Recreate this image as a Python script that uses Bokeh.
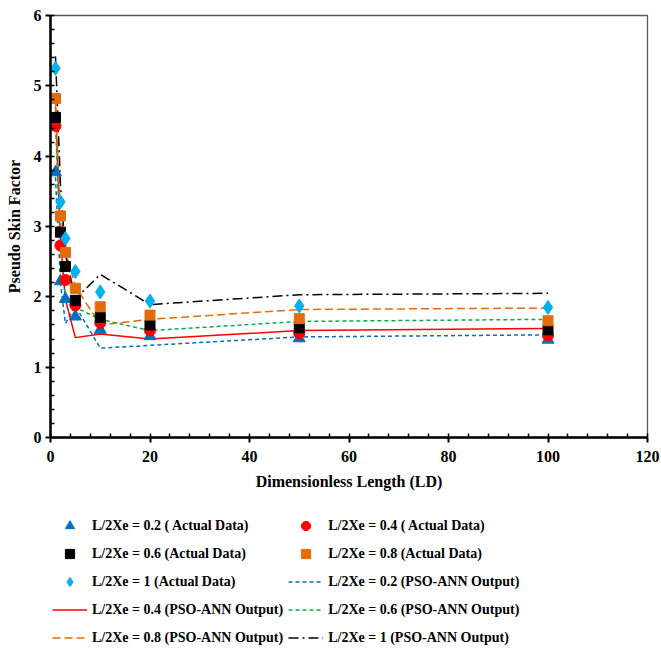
from bokeh.plotting import figure
from bokeh.layouts import column
from bokeh.models import Legend, LegendItem, Range1d, SingleIntervalTicker, ColumnDataSource
from bokeh.embed import file_html
from bokeh.resources import INLINE

# ---- data ----
x_ld = [1, 2, 3, 5, 10, 20, 50, 100]

actual_02 = [3.77, 2.22, 1.97, 1.72, 1.53, 1.44, 1.41, 1.39]
actual_04 = [4.43, 2.73, 2.24, 1.88, 1.63, 1.52, 1.48, 1.45]
actual_06 = [4.55, 2.92, 2.43, 1.95, 1.71, 1.60, 1.56, 1.53]
actual_08 = [4.82, 3.15, 2.63, 2.12, 1.86, 1.74, 1.69, 1.66]
actual_10 = [5.25, 3.35, 2.83, 2.36, 2.07, 1.94, 1.87, 1.85]

pso_02 = [3.70, 2.20, 1.62, 1.87, 1.27, 1.31, 1.43, 1.46]
pso_04 = [4.70, 2.80, 1.96, 1.42, 1.47, 1.40, 1.52, 1.55]
pso_06 = [4.50, 2.60, 2.00, 1.85, 1.68, 1.52, 1.65, 1.68]
pso_08 = [4.75, 3.20, 2.65, 2.15, 1.60, 1.68, 1.82, 1.84]
pso_10 = [5.42, 3.60, 2.60, 1.97, 2.32, 1.89, 2.03, 2.05]

labels_actual = ["L/2Xe = 0.2 ( Actual Data)", "L/2Xe = 0.4 ( Actual Data)",
                 "L/2Xe = 0.6 (Actual Data)", "L/2Xe = 0.8 (Actual Data)",
                 "L/2Xe = 1 (Actual Data)"]
labels_pso = ["L/2Xe = 0.2 (PSO-ANN Output)", "L/2Xe = 0.4 (PSO-ANN Output)",
              "L/2Xe = 0.6 (PSO-ANN Output)", "L/2Xe = 0.8 (PSO-ANN Output)",
              "L/2Xe = 1 (PSO-ANN Output)"]

FONT = "Liberation Serif"

src = ColumnDataSource(dict(x=x_ld, a02=actual_02, a04=actual_04, a06=actual_06,
                            a08=actual_08, a10=actual_10, p02=pso_02, p04=pso_04,
                            p06=pso_06, p08=pso_08, p10=pso_10))

LINE_STYLES = {
    "p02": dict(line_color="#0070C0", line_width=1.5, line_dash="4 3"),
    "p04": dict(line_color="#FF0000", line_width=1.5),
    "p06": dict(line_color="#00B050", line_width=1.5, line_dash="4 3"),
    "p08": dict(line_color="#E46C0A", line_width=1.5, line_dash="8 4"),
    "p10": dict(line_color="black", line_width=1.5, line_dash="10 4 2 4"),
}
MARKER_STYLES = {
    "a02": dict(marker="triangle", size=12, color="#0070C0"),
    "a04": dict(marker="circle", size=11, color="#FF0000"),
    "a06": dict(marker="square", size=10, color="black"),
    "a08": dict(marker="square", size=10, color="#E46C0A"),
    "a10": dict(marker="diamond", size=14, color="#00B0F0"),
}


def add_series(fig):
    r = {}
    for k, st in LINE_STYLES.items():
        r[k] = fig.line("x", k, source=src, **st)
    for k, st in MARKER_STYLES.items():
        r[k] = fig.scatter("x", k, source=src, **st)
    return r


# ---- main chart ----
p = figure(width=661, height=500, output_backend="svg", toolbar_location=None,
           x_range=Range1d(0, 120), y_range=Range1d(0, 6),
           min_border_left=50, min_border_top=15, min_border_right=14,
           min_border_bottom=63)
p.grid.visible = False
p.outline_line_color = "#595959"
p.outline_line_width = 1.3
p.background_fill_color = "white"
p.border_fill_color = "white"

p.xaxis.ticker = SingleIntervalTicker(interval=20, num_minor_ticks=5)
p.yaxis.ticker = SingleIntervalTicker(interval=1, num_minor_ticks=5)
for ax in (p.xaxis[0], p.yaxis[0]):
    ax.axis_line_width = 2.5
    ax.axis_line_color = "black"
    ax.major_tick_line_width = 2
    ax.minor_tick_line_width = 1.5
    ax.major_tick_out = 5
    ax.major_tick_in = 0
    ax.minor_tick_in = 4
    ax.minor_tick_out = 0
    ax.major_label_text_font = FONT
    ax.major_label_text_font_style = "bold"
    ax.major_label_text_font_size = "16px"
    ax.major_label_text_color = "black"
    ax.axis_label_text_font = FONT
    ax.axis_label_text_font_style = "bold"
    ax.axis_label_text_font_size = "16px"
    ax.axis_label_text_color = "black"
p.xaxis.axis_label = "Dimensionless Length (LD)"
p.yaxis.axis_label = "Pseudo Skin Factor"
p.yaxis.major_label_standoff = 4
p.xaxis.major_label_standoff = 8
p.yaxis.axis_label_standoff = 8
p.xaxis.axis_label_standoff = 8

add_series(p)

# ---- legend panel (same series, kept outside its own view) ----
lg = figure(width=661, height=149, output_backend="svg", toolbar_location=None,
            x_range=Range1d(-10, -9), y_range=Range1d(-10, -9),
            min_border=0)
lg.axis.visible = False
lg.grid.visible = False
lg.outline_line_color = None
lg.background_fill_color = "white"
lg.border_fill_color = "white"
rr = add_series(lg)

# legend fills column by column
items = [
    LegendItem(label=labels_actual[0], renderers=[rr["a02"]]),
    LegendItem(label=labels_actual[2], renderers=[rr["a06"]]),
    LegendItem(label=labels_actual[4], renderers=[rr["a10"]]),
    LegendItem(label=labels_pso[1], renderers=[rr["p04"]]),
    LegendItem(label=labels_pso[3], renderers=[rr["p08"]]),
    LegendItem(label=labels_actual[1], renderers=[rr["a04"]]),
    LegendItem(label=labels_actual[3], renderers=[rr["a08"]]),
    LegendItem(label=labels_pso[0], renderers=[rr["p02"]]),
    LegendItem(label=labels_pso[2], renderers=[rr["p06"]]),
    LegendItem(label=labels_pso[4], renderers=[rr["p10"]]),
]
legend = Legend(items=items, ncols=2, location=(0, -2),
                label_text_font=FONT, label_text_font_style="bold",
                label_text_font_size="14px", label_text_color="black",
                glyph_width=35, glyph_height=23, label_height=23,
                label_standoff=5, spacing=5, padding=2, margin=0,
                border_line_alpha=0, background_fill_alpha=0)
lg.add_layout(legend, "center")

layout = column(p, lg, spacing=0)
open("out.html", "w").write(file_html(layout, INLINE))
